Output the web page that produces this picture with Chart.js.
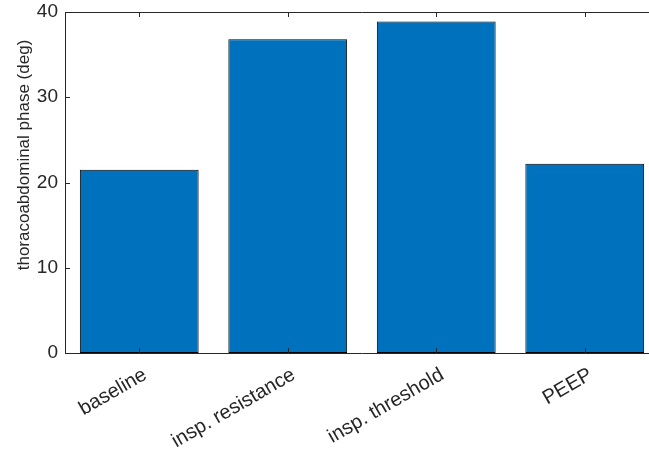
<!DOCTYPE html>
<html>
<head>
<meta charset="utf-8">
<script src="https://cdn.jsdelivr.net/npm/chart.js@4.4.0/dist/chart.umd.min.js"></script>
<style>
    html, body { margin: 0; padding: 0; background: #fff; overflow: hidden; }
    #wrap { position: relative; width: 672px; height: 455px; }
</style>
</head>
<body>
<div id="wrap"><canvas id="phaseChart"></canvas></div>
<script>
const categories = ['baseline', 'insp. resistance', 'insp. threshold', 'PEEP'];
const phaseValues = [21.5, 36.8, 38.9, 22.2];
const yTicks = [0, 10, 20, 30, 40];
const yTitle = 'thoracoabdominal phase (deg)';

const axisColor = '#262626';
const fontFamily = '"Liberation Sans", Arial, Helvetica, sans-serif';

// ejes estilo MATLAB: caja + marcas hacia dentro
const boxTicks = {
    id: 'boxTicks',
    afterDatasetsDraw(chart) {
        const { ctx, chartArea: a, scales } = chart;
        ctx.save();
        ctx.strokeStyle = axisColor;
        ctx.lineWidth = 1;
        ctx.beginPath();
        ctx.rect(Math.round(a.left) + 0.5, Math.round(a.top) + 0.5,
            Math.round(a.right - a.left), Math.round(a.bottom - a.top));
        ctx.stroke();

        ctx.beginPath();
        scales.y.ticks.forEach((t, i) => {
            const y = Math.round(scales.y.getPixelForTick(i)) + 0.5;
            ctx.moveTo(a.left, y); ctx.lineTo(a.left + 5, y);
            ctx.moveTo(a.right, y); ctx.lineTo(a.right - 5, y);
        });
        scales.x.ticks.forEach((t, i) => {
            const x = Math.round(scales.x.getPixelForTick(i)) + 0.5;
            ctx.moveTo(x, a.bottom); ctx.lineTo(x, a.bottom - 5);
            ctx.moveTo(x, a.top); ctx.lineTo(x, a.top + 5);
        });
        ctx.stroke();

        // título del eje y
        ctx.fillStyle = axisColor;
        ctx.font = '17px ' + fontFamily;
        ctx.textAlign = 'center';
        ctx.textBaseline = 'middle';
        ctx.translate(24, 155);
        ctx.rotate(-Math.PI / 2);
        ctx.fillText(yTitle, 0, 0);
        ctx.restore();
    }
};

new Chart(document.getElementById('phaseChart'), {
    type: 'bar',
    data: {
        labels: categories,
        datasets: [{
            data: phaseValues,
            backgroundColor: '#0072BD',
            borderColor: '#000000',
            borderWidth: 1,
            borderSkipped: false,
            categoryPercentage: 0.8,
            barPercentage: 1.0
        }]
    },
    options: {
        responsive: true,
        maintainAspectRatio: false,
        animation: false,
        layout: { padding: { top: 12, right: 13, left: 0, bottom: 0 } },
        plugins: { legend: { display: false }, tooltip: { enabled: false } },
        scales: {
            x: {
                grid: { display: false, drawTicks: false },
                border: { display: false },
                ticks: {
                    color: axisColor,
                    font: { family: fontFamily, size: 20 },
                    minRotation: 30,
                    maxRotation: 30,
                    labelOffset: 6,
                    padding: 10
                },
                afterFit(scale) {
                    scale.height = 102;
                    scale.paddingLeft = 0;
                    scale.paddingRight = 0;
                }
            },
            y: {
                min: 0,
                max: 40,
                afterBuildTicks(scale) { scale.ticks = yTicks.map(v => ({ value: v })); },
                grid: { display: false, drawTicks: false },
                border: { display: false },
                ticks: {
                    color: axisColor,
                    font: { family: fontFamily, size: 19 },
                    padding: 7
                },
                afterFit(scale) {
                    scale.width = 65;
                    scale.paddingTop = 0;
                    scale.paddingBottom = 0;
                }
            }
        }
    },
    plugins: [boxTicks]
});
</script>
</body>
</html>
